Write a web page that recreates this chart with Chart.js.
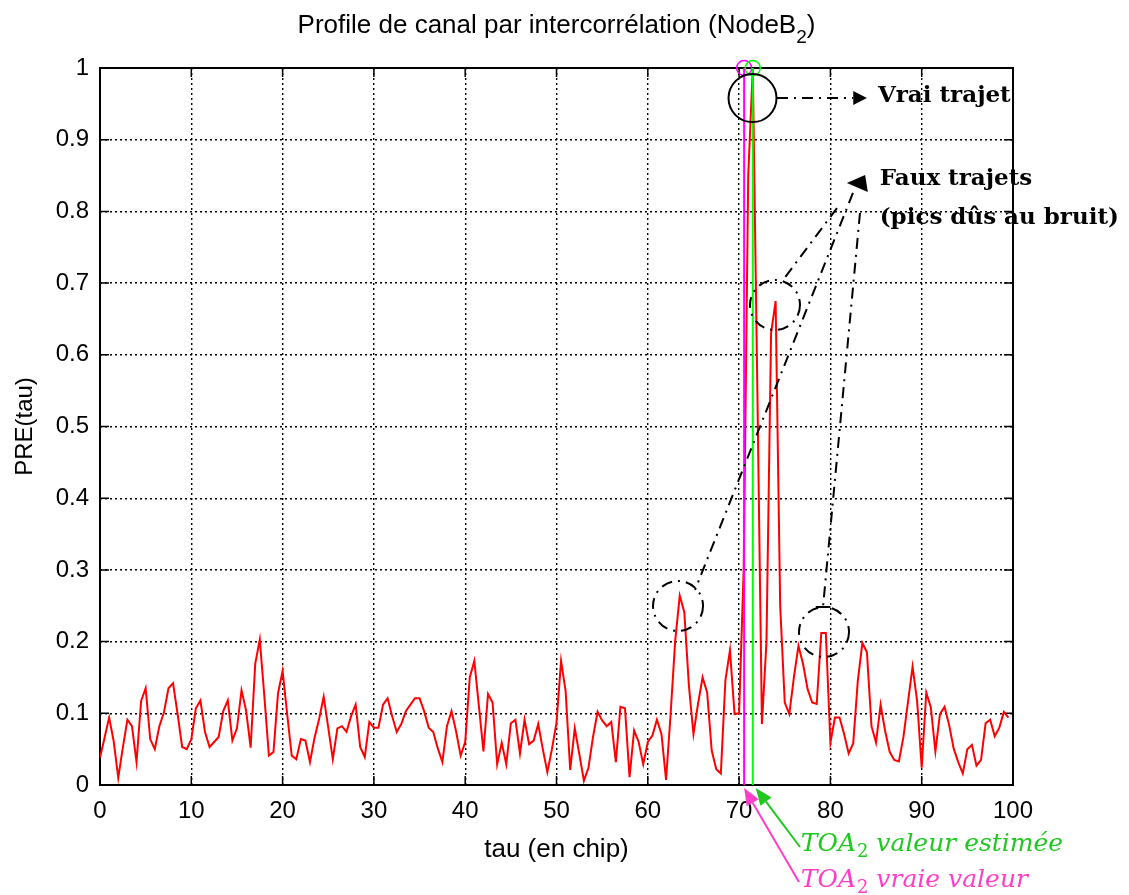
<!DOCTYPE html>
<html>
<head>
<meta charset="utf-8">
<title>Profile de canal</title>
<script src="https://cdn.jsdelivr.net/npm/chart.js@4.4.1/dist/chart.umd.min.js"></script>
<style>
  html, body { margin: 0; padding: 0; background: #fff; }
  #wrap { width: 1129px; height: 895px; }
</style>
</head>
<body>
<div id="wrap"><canvas id="profile" width="1129" height="895"></canvas></div>
<script>
// sampling step of tau (chip)
const TAU_STEP = 0.5;

// PRE(tau), one value every half chip
const pre0to20 = [0.038, 0.066, 0.094, 0.061, 0.010, 0.052, 0.091, 0.082, 0.032, 0.117,
  0.135, 0.064, 0.050, 0.082, 0.101, 0.135, 0.142, 0.099, 0.053, 0.050,
  0.064, 0.107, 0.118, 0.074, 0.053, 0.060, 0.067, 0.103, 0.118, 0.062,
  0.079, 0.132, 0.104, 0.052, 0.169, 0.203, 0.124, 0.041, 0.046, 0.128, 0.159];
const pre20to40 = [0.099, 0.041, 0.036, 0.064, 0.062, 0.032, 0.066, 0.092, 0.123, 0.080,
  0.036, 0.079, 0.082, 0.074, 0.096, 0.112, 0.053, 0.039, 0.088, 0.080,
  0.080, 0.112, 0.121, 0.096, 0.074, 0.085, 0.103, 0.112, 0.121, 0.121,
  0.103, 0.080, 0.074, 0.051, 0.032, 0.082, 0.103, 0.075, 0.041, 0.060];
const pre40to60 = [0.150, 0.173, 0.110, 0.047, 0.127, 0.115, 0.029, 0.059, 0.029, 0.086,
  0.091, 0.044, 0.091, 0.057, 0.062, 0.085, 0.050, 0.018, 0.050, 0.087,
  0.173, 0.131, 0.021, 0.079, 0.043, 0.006, 0.024, 0.067, 0.102, 0.090,
  0.082, 0.088, 0.032, 0.109, 0.107, 0.011, 0.076, 0.060, 0.029, 0.060];
const pre60to80 = [0.069, 0.091, 0.071, 0.007, 0.099, 0.201, 0.264, 0.241, 0.139, 0.071,
  0.113, 0.150, 0.129, 0.048, 0.022, 0.016, 0.146, 0.188, 0.099, 0.100,
  0.30, 0.85, 1.0, 0.55, 0.085, 0.20, 0.63, 0.675, 0.25, 0.115,
  0.099, 0.150, 0.194, 0.169, 0.134, 0.115, 0.113, 0.212, 0.212, 0.059];
const pre80to100 = [0.094, 0.094, 0.071, 0.044, 0.058, 0.145, 0.198, 0.185, 0.082, 0.059,
  0.112, 0.075, 0.046, 0.035, 0.033, 0.067, 0.116, 0.165, 0.117, 0.024,
  0.129, 0.108, 0.047, 0.099, 0.109, 0.084, 0.051, 0.032, 0.016, 0.050,
  0.056, 0.027, 0.035, 0.086, 0.091, 0.068, 0.080, 0.102, 0.094];

// time of arrival (chip): true and estimated
const toaTrue = 70.55;
const toaEstimated = 71.5;

const xTickLabels = ['0', '10', '20', '30', '40', '50', '60', '70', '80', '90', '100'];
const yTickLabels = ['0', '0.1', '0.2', '0.3', '0.4', '0.5', '0.6', '0.7', '0.8', '0.9', '1'];

const preValues = [].concat(pre0to20, pre20to40, pre40to60, pre60to80, pre80to100);
const profilePoints = preValues.map((v, i) => ({ x: i * TAU_STEP, y: v }));

const SANS = '"Liberation Sans", Arial, sans-serif';
const SERIF = '"DejaVu Serif", serif';
const GREEN_TXT = '#1ec81e';
const PINK_TXT = '#ff3ec8';

function dashDotLine(ctx, x1, y1, x2, y2) {
  ctx.save();
  ctx.setLineDash([11, 6, 2, 6]);
  ctx.lineWidth = 2;
  ctx.strokeStyle = '#000';
  ctx.beginPath();
  ctx.moveTo(x1, y1);
  ctx.lineTo(x2, y2);
  ctx.stroke();
  ctx.restore();
}

function dashDotCircle(ctx, cx, cy, r) {
  ctx.save();
  ctx.setLineDash([11, 6, 2, 6]);
  ctx.lineWidth = 2;
  ctx.strokeStyle = '#000';
  ctx.beginPath();
  ctx.arc(cx, cy, r, 0, Math.PI * 2);
  ctx.stroke();
  ctx.restore();
}

function arrow(ctx, fromX, fromY, tipX, tipY, color, len, half) {
  const ang = Math.atan2(tipY - fromY, tipX - fromX);
  const bx = tipX - len * Math.cos(ang);
  const by = tipY - len * Math.sin(ang);
  ctx.save();
  ctx.strokeStyle = color;
  ctx.fillStyle = color;
  ctx.lineWidth = 2;
  ctx.beginPath();
  ctx.moveTo(fromX, fromY);
  ctx.lineTo(bx, by);
  ctx.stroke();
  ctx.beginPath();
  ctx.moveTo(tipX, tipY);
  ctx.lineTo(bx + half * Math.sin(ang), by - half * Math.cos(ang));
  ctx.lineTo(bx - half * Math.sin(ang), by + half * Math.cos(ang));
  ctx.closePath();
  ctx.fill();
  ctx.restore();
}

// "TOA" + subscript 2 + rest, italic math style
function toaText(ctx, x0, base, rest, color) {
  ctx.save();
  ctx.fillStyle = color;
  ctx.textAlign = 'left';
  ctx.textBaseline = 'alphabetic';
  ctx.font = 'italic 25px ' + SERIF;
  ctx.fillText('TOA', x0, base);
  let cx = x0 + ctx.measureText('TOA').width + 1;
  ctx.font = '18px ' + SERIF;
  ctx.fillText('2', cx, base + 6);
  cx += ctx.measureText('2').width;
  ctx.font = 'italic 25px ' + SERIF;
  ctx.fillText(rest, cx, base);
  ctx.restore();
}

// box around the axes with inward tick marks
const axesFrame = {
  id: 'axesFrame',
  beforeDatasetsDraw(chart) {
    const { ctx, chartArea: a, scales: { x, y } } = chart;
    const tl = 9;
    ctx.save();
    ctx.strokeStyle = '#000';
    ctx.lineWidth = 1.5;
    ctx.beginPath();
    x.ticks.forEach(t => {
      const p = x.getPixelForValue(t.value);
      ctx.moveTo(p, a.bottom); ctx.lineTo(p, a.bottom - tl);
      ctx.moveTo(p, a.top); ctx.lineTo(p, a.top + tl);
    });
    y.ticks.forEach(t => {
      const p = y.getPixelForValue(t.value);
      ctx.moveTo(a.left, p); ctx.lineTo(a.left + tl, p);
      ctx.moveTo(a.right, p); ctx.lineTo(a.right - tl, p);
    });
    ctx.stroke();
    ctx.lineWidth = 2;
    ctx.strokeRect(a.left, a.top, a.right - a.left, a.bottom - a.top);
    ctx.restore();
  }
};

// titles and the hand-drawn style notes
const profileNotes = {
  id: 'profileNotes',
  afterDraw(chart) {
    const { ctx, chartArea: a, scales: { x, y } } = chart;
    const px = v => x.getPixelForValue(v);
    const py = v => y.getPixelForValue(v);
    const midX = (a.left + a.right) / 2;

    // title with subscript
    ctx.save();
    ctx.fillStyle = '#000';
    ctx.textBaseline = 'alphabetic';
    ctx.textAlign = 'left';
    const main = 'Profile de canal par intercorrélation (NodeB';
    ctx.font = '26px ' + SANS;
    const w1 = ctx.measureText(main).width;
    const w3 = ctx.measureText(')').width;
    ctx.font = '19px ' + SANS;
    const w2 = ctx.measureText('2').width;
    let tx = midX - (w1 + w2 + w3) / 2;
    ctx.font = '26px ' + SANS;
    ctx.fillText(main, tx, 33);
    ctx.font = '19px ' + SANS;
    ctx.fillText('2', tx + w1, 43);
    ctx.font = '26px ' + SANS;
    ctx.fillText(')', tx + w1 + w2, 33);

    // axis titles
    ctx.textAlign = 'center';
    ctx.font = '26px ' + SANS;
    ctx.fillText('tau (en chip)', midX, 857);
    ctx.font = '24px ' + SANS;
    ctx.translate(25, (a.top + a.bottom) / 2);
    ctx.rotate(-Math.PI / 2);
    ctx.textBaseline = 'middle';
    ctx.fillText('PRE(tau)', 0, 0);
    ctx.restore();

    // true path
    ctx.save();
    ctx.strokeStyle = '#000';
    ctx.lineWidth = 2;
    ctx.beginPath();
    ctx.arc(px(71.47), py(0.958), 24, 0, Math.PI * 2);
    ctx.stroke();
    ctx.restore();
    dashDotLine(ctx, px(74.15), py(0.958), px(82.5), py(0.958));
    ctx.save();
    ctx.fillStyle = '#000';
    ctx.beginPath();
    ctx.moveTo(px(84.0), py(0.958));
    ctx.lineTo(px(82.5), py(0.958) - 7);
    ctx.lineTo(px(82.5), py(0.958) + 7);
    ctx.closePath();
    ctx.fill();

    ctx.font = 'bold 23px ' + SERIF;
    ctx.textAlign = 'left';
    ctx.textBaseline = 'alphabetic';
    ctx.fillText('Vrai trajet', px(85.2), py(0.9526));
    ctx.fillText('Faux trajets', px(85.4), py(0.8368));
    ctx.fillText('(pics dûs au bruit)', px(85.4), py(0.782));

    // false paths: arrow head and leader lines
    ctx.beginPath();
    ctx.moveTo(px(81.8), py(0.8396));
    ctx.lineTo(px(83.8), py(0.8508));
    ctx.lineTo(px(84.1), py(0.827));
    ctx.closePath();
    ctx.fill();
    ctx.restore();

    dashDotLine(ctx, px(80.72), py(0.8047), px(74.81), py(0.7043));
    dashDotLine(ctx, px(82.47), py(0.8257), px(65.17), py(0.272));
    dashDotLine(ctx, px(83.24), py(0.7978), px(79.19), py(0.2483));
    ctx.save();
    ctx.strokeStyle = '#000';
    ctx.lineWidth = 2;
    ctx.beginPath();
    ctx.moveTo(px(78.4), py(0.2483));
    ctx.lineTo(px(80.0), py(0.2483));
    ctx.stroke();
    ctx.restore();

    dashDotCircle(ctx, px(73.93), py(0.6695), 25);
    dashDotCircle(ctx, px(63.31), py(0.2497), 25);
    dashDotCircle(ctx, px(79.3), py(0.2134), 25);

    // TOA pointers under the axis
    arrow(ctx, px(76.67), a.bottom + 62, px(toaEstimated) + 3, a.bottom + 3, GREEN_TXT, 17, 7);
    arrow(ctx, px(76.56), a.bottom + 97, px(toaTrue), a.bottom + 3, PINK_TXT, 17, 7);
    toaText(ctx, px(76.75), 851, ' valeur estimée', GREEN_TXT);
    toaText(ctx, px(76.75), 887, ' vraie valeur', PINK_TXT);
  }
};

const ctx = document.getElementById('profile').getContext('2d');

new Chart(ctx, {
  type: 'line',
  data: {
    datasets: [
      {
        label: 'TOA estimée',
        data: [{ x: toaEstimated, y: 0 }, { x: toaEstimated, y: 1 }],
        borderColor: '#00ff00',
        borderWidth: 2,
        pointRadius: [0, 7.5],
        pointBorderColor: '#00ff00',
        pointBackgroundColor: 'rgba(0,0,0,0)',
        pointBorderWidth: 1.5,
        clip: false,
        order: 1
      },
      {
        label: 'TOA vraie',
        data: [{ x: toaTrue, y: 0 }, { x: toaTrue, y: 1 }],
        borderColor: '#ff00ff',
        borderWidth: 2,
        pointRadius: [0, 7.5],
        pointBorderColor: '#ff00ff',
        pointBackgroundColor: 'rgba(0,0,0,0)',
        pointBorderWidth: 1.5,
        clip: false,
        order: 2
      },
      {
        label: 'PRE(tau)',
        data: profilePoints,
        borderColor: '#ff0000',
        borderWidth: 2,
        pointRadius: 0,
        tension: 0,
        order: 3
      }
    ]
  },
  options: {
    responsive: false,
    animation: false,
    layout: { padding: { top: 68, right: 116, left: 0, bottom: 0 } },
    plugins: {
      legend: { display: false },
      tooltip: { enabled: false },
      title: { display: false }
    },
    scales: {
      x: {
        type: 'linear',
        min: 0,
        max: 100,
        ticks: {
          stepSize: 10,
          autoSkip: false,
          maxRotation: 0,
          padding: 12,
          color: '#000',
          font: { family: SANS, size: 24 },
          callback: (value, index) => xTickLabels[index]
        },
        grid: { color: '#000', lineWidth: 1.4, drawTicks: false },
        border: { display: false, dash: [2, 3] },
        afterFit(scale) { scale.height = 110; }
      },
      y: {
        min: 0,
        max: 1,
        ticks: {
          stepSize: 0.1,
          padding: 11,
          color: '#000',
          font: { family: SANS, size: 24 },
          callback: (value, index) => yTickLabels[index]
        },
        grid: { color: '#000', lineWidth: 1.4, drawTicks: false },
        border: { display: false, dash: [2, 3] },
        afterFit(scale) { scale.width = 100; }
      }
    }
  },
  plugins: [axesFrame, profileNotes]
});
</script>
</body>
</html>
